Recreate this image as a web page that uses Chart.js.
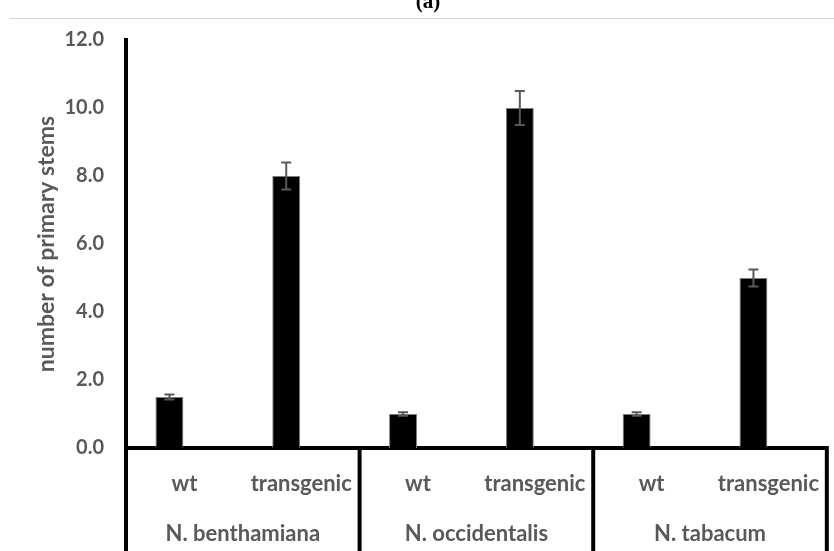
<!DOCTYPE html>
<html>
<head>
<meta charset="utf-8">
<script src="https://cdn.jsdelivr.net/npm/chart.js@4/dist/chart.umd.min.js"></script>
<style>
  body { margin: 0; background: #fff; }
  #wrap { position: relative; width: 834px; height: 551px; overflow: hidden; }
  #panel { position: absolute; top: -9px; left: 0; width: 856px; text-align: center;
    font: bold 21px "Liberation Serif", serif; color: #000; line-height: 21px; }
  #rule { position: absolute; top: 18px; left: 10px; right: 0; height: 1px; background: #d6d6d6; }
</style>
</head>
<body>
<div id="wrap">
  <canvas id="chart"></canvas>
  <div id="rule"></div>
  <div id="panel">(a)</div>
</div>
<script>
// Data
const treatments = ["wt", "transgenic", "wt", "transgenic", "wt", "transgenic"];
const species = ["N. benthamiana", "N. occidentalis", "N. tabacum"];
const stems = [1.5, 8.0, 1.0, 10.0, 1.0, 5.0];
const stemErr = [0.07, 0.4, 0.05, 0.5, 0.05, 0.25];
const yTicks = [0, 2, 4, 6, 8, 10, 12];

const gray = "#595959";
const fontFamily = "Lato, 'Open Sans', sans-serif";

// Error bars drawn on top of the bars
const errorBars = {
  id: "errorBars",
  afterDatasetsDraw(chart) {
    const ctx = chart.ctx;
    const y = chart.scales.y;
    const bars = chart.getDatasetMeta(0).data;
    ctx.save();
    ctx.strokeStyle = gray;
    ctx.lineWidth = 2;
    bars.forEach((bar, i) => {
      const top = y.getPixelForValue(stems[i] + stemErr[i]);
      const bot = y.getPixelForValue(stems[i] - stemErr[i]);
      ctx.beginPath();
      ctx.moveTo(bar.x, top);
      ctx.lineTo(bar.x, bot);
      ctx.moveTo(bar.x - 5, top);
      ctx.lineTo(bar.x + 5, top);
      ctx.moveTo(bar.x - 5, bot);
      ctx.lineTo(bar.x + 5, bot);
      ctx.stroke();
    });
    ctx.restore();
  },
};

// Species row and the group dividers under the axis
const groupAxis = {
  id: "groupAxis",
  afterDraw(chart) {
    const ctx = chart.ctx;
    const x = chart.scales.x;
    const bottom = chart.chartArea.bottom;
    const step = (x.right - x.left) / species.length;
    ctx.save();
    ctx.strokeStyle = "#000";
    ctx.lineWidth = 4;
    for (let k = 0; k <= species.length; k++) {
      const px = x.left + k * step;
      ctx.beginPath();
      ctx.moveTo(px, bottom - 2);
      ctx.lineTo(px, chart.height);
      ctx.stroke();
    }
    ctx.fillStyle = gray;
    ctx.font = "bold 22px " + fontFamily;
    ctx.textAlign = "center";
    ctx.textBaseline = "alphabetic";
    species.forEach((name, k) => {
      ctx.fillText(name, x.left + (k + 0.5) * step, 541);
    });
    ctx.restore();
  },
};

new Chart(document.getElementById("chart"), {
  type: "bar",
  data: {
    labels: treatments,
    datasets: [
      {
        label: "number of primary stems",
        data: stems,
        backgroundColor: "#000",
        borderColor: "#7f7f7f",
        borderWidth: 1,
        barPercentage: 0.933,
        categoryPercentage: 0.513,
      },
      {
        // empty second series of the original clustered chart
        label: "spacer",
        data: treatments.map(() => null),
        backgroundColor: "rgba(0,0,0,0)",
        barPercentage: 0.933,
        categoryPercentage: 0.513,
      },
    ],
  },
  options: {
    responsive: true,
    maintainAspectRatio: false,
    animation: false,
    layout: { padding: { top: 40, right: 0, left: 0, bottom: 0 } },
    plugins: {
      legend: { display: false },
      tooltip: { enabled: false },
    },
    scales: {
      x: {
        grid: { display: false },
        border: { display: true, color: "#000", width: 4 },
        ticks: {
          color: gray,
          font: { family: fontFamily, size: 22, weight: "bold" },
          padding: 15,
          maxRotation: 0,
          autoSkip: false,
        },
        afterFit(scale) { scale.height = 103; },
      },
      y: {
        min: 0,
        max: 12,
        grid: { display: false },
        border: { display: true, color: "#000", width: 4 },
        afterBuildTicks(scale) { scale.ticks = yTicks.map((v) => ({ value: v })); },
        ticks: {
          color: gray,
          font: { family: fontFamily, size: 20, weight: "bold" },
          padding: 14,
          callback: (v) => Number(v).toFixed(1),
        },
        title: {
          display: true,
          text: "number of primary stems",
          color: gray,
          font: { family: fontFamily, size: 23, weight: "bold" },
          padding: { top: 33, bottom: 0 },
        },
        afterFit(scale) { scale.width = 126; },
      },
    },
  },
  plugins: [errorBars, groupAxis],
});
</script>
</body>
</html>
